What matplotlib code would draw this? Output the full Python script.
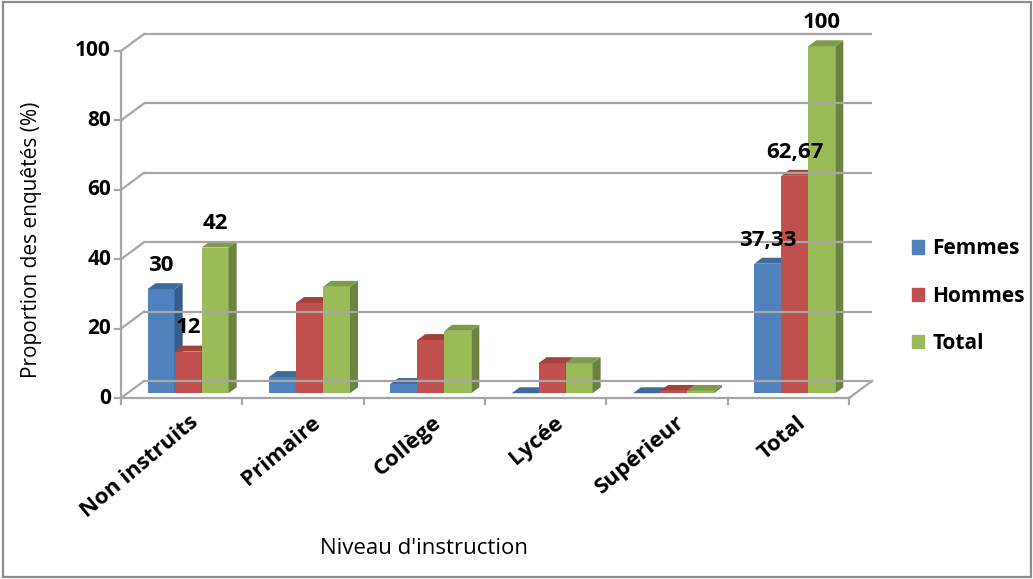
import matplotlib
matplotlib.use("Agg")
import matplotlib.pyplot as plt
from matplotlib.patches import Polygon, Rectangle, Patch
import numpy as np

plt.rcParams['font.family'] = ['Open Sans', 'DejaVu Sans']

categories = ["Non instruits", "Primaire", "Collège", "Lycée", "Supérieur", "Total"]
series_names = ["Femmes", "Hommes", "Total"]
femmes = [30, 4.67, 2.67, 0, 0, 37.33]
hommes = [12, 26, 15.33, 8.67, 0.67, 62.67]
total = [42, 30.67, 18, 8.67, 0.67, 100]
# which bars carry a value label
labelled = {(0, 0), (1, 0), (2, 0), (0, 5), (1, 5), (2, 5)}
yticks = [0, 20, 40, 60, 80, 100]

front = ["#4F81BD", "#C0504D", "#9BBB59"]
side = ["#375C8C", "#8E3A38", "#6C8240"]
top = ["#3F6A9E", "#A3413E", "#7F9B48"]
grid_c = "#A6A6A6"

W, H = 1033, 579
fig = plt.figure(figsize=(W / 100, H / 100), dpi=100)


def fp(x, y):
    return x / W, 1 - y / H


# front frame of the plot in pixels
x0, x1, y0, y1 = 121, 849, 398, 51
ax = fig.add_axes([x0 / W, 1 - y0 / H, (x1 - x0) / W, (y0 - y1) / H])
ax.set_xlim(-0.5, 5.5)
ax.set_ylim(0, 100)
ax.axis("off")

ux = (x1 - x0) / 6      # px per category
uy = (y0 - y1) / 100    # px per value unit
dx, dy = 23 / ux, 17 / uy   # full depth of the box in data units

# back wall gridlines + left wall diagonals
for t in yticks:
    ax.plot([-0.5 + dx, 5.5 + dx], [t + dy, t + dy], color=grid_c, lw=1.6, clip_on=False,
            solid_capstyle="butt")
    ax.plot([-0.5, -0.5 + dx], [t, t + dy], color=grid_c, lw=1.6, clip_on=False)
    ax.plot([-0.5 - 6 / ux, -0.5], [t, t], color=grid_c, lw=1.6, clip_on=False)
    ax.text(-0.5 - 10 / ux, t, str(t), ha="right", va="center", fontsize=15,
            fontweight="bold", clip_on=False)

# floor front + right edge, axis line
ax.plot([-0.5, 5.5], [0, 0], color=grid_c, lw=1.6, clip_on=False)
ax.plot([5.5, 5.5 + dx], [0, dy], color=grid_c, lw=1.6, clip_on=False)
ax.plot([-0.5, -0.5], [0, 100], color=grid_c, lw=1.6, clip_on=False)
for b in np.arange(-0.5, 6, 1):
    ax.plot([b, b], [0, -6 / uy], color=grid_c, lw=1.6, clip_on=False)

# bars
w = 27 / ux
fs, fd = 0.28, 0.35   # front position and depth of bars as fraction of box depth
sx, sy = fs * dx, fs * dy
bx, by = fd * dx, fd * dy
x = np.arange(len(categories))
values = [femmes, hommes, total]
for i in range(len(categories)):
    for s, vals in enumerate(values):
        v = vals[i]
        xl = x[i] + (s - 1.5) * w + sx
        xr = xl + w
        yb, yt = sy, v + sy
        ax.bar(xl, v, width=w, bottom=yb, align="edge", color=front[s], lw=0, clip_on=False)
        ax.add_patch(Polygon([(xr, yb), (xr + bx, yb + by), (xr + bx, yt + by), (xr, yt)],
                             closed=True, color=side[s], lw=0, clip_on=False))
        ax.add_patch(Polygon([(xl, yt), (xr, yt), (xr + bx, yt + by), (xl + bx, yt + by)],
                             closed=True, color=top[s], lw=0, clip_on=False))
        if (s, i) in labelled:
            ax.annotate(f"{v:g}".replace(".", ","), (xl + w / 2, yt), xytext=(0, 17),
                        textcoords="offset points", ha="center", va="center",
                        fontsize=16, fontweight="bold", annotation_clip=False)

# category labels
for i, c in enumerate(categories):
    ax.text(x[i] + 0.12, -22 / uy, c, rotation=40, rotation_mode="anchor",
            ha="right", va="center", fontsize=16, fontweight="bold", clip_on=False)

fig.text(*fp(32, 240), "Proportion des enquêtés (%)", rotation=90, ha="center",
         va="center", fontsize=15)
fig.text(*fp(424, 548), "Niveau d'instruction", ha="center", va="center", fontsize=16)

handles = [Patch(color=c) for c in front]
fig.legend(handles, series_names, loc="center left", bbox_to_anchor=fp(893, 296),
           frameon=False, handlelength=0.6, handleheight=0.6,
           handletextpad=0.4, labelspacing=1.25, prop={"weight": "bold", "size": 15})

fig.patches.append(Rectangle(fp(2.5, 577), (W - 5) / W, 575 / H, transform=fig.transFigure,
                             fill=False, ec="#8C8C8C", lw=1.6))

fig.savefig("out.png", dpi=100)
